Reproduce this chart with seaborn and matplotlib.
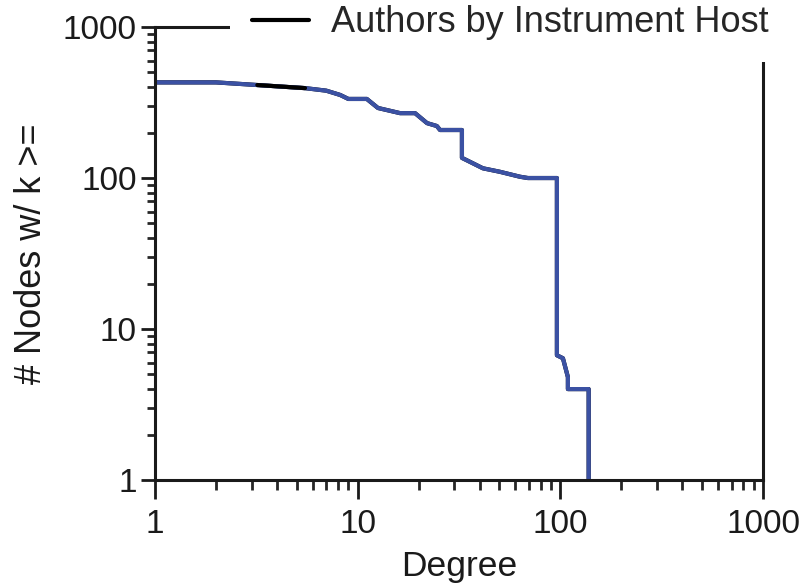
import matplotlib
matplotlib.use("Agg")
import matplotlib.pyplot as plt
import matplotlib.ticker as mticker
import seaborn as sns
import pandas as pd

# -------------------------------------------------
# Data
# -------------------------------------------------
degree = [1, 2.0, 3.2, 5.5, 7.0, 8.2, 9.0, 11.1, 12.6, 16.2, 19.2, 22.0,
          24.6, 25.5, 32.7, 32.7, 34.6, 41.5, 50.3, 63.2, 69.2, 96.2,
          96.2, 103, 109, 109, 138, 138]
nodes = [430, 430, 413, 394, 379, 355, 334, 334, 291, 269, 269, 231,
         221, 208, 208, 136, 131, 116, 110, 102, 100, 100,
         6.7, 6.4, 4.8, 4.0, 4.0, 1.0]
series_label = "Authors by Instrument Host"

df = pd.DataFrame({"degree": degree, "nodes": nodes})

# -------------------------------------------------
# Plot Settings
# -------------------------------------------------
sns.set_theme(style="ticks")
plt.rcParams["font.family"] = ["Liberation Sans", "DejaVu Sans"]

blue = "#3b51a3"
ink = "#1a1a1a"

fig = plt.figure(figsize=(8.07, 5.88), dpi=100)
ax = fig.add_axes([0.192, 0.1837, 0.7535, 0.7703])

sns.lineplot(data=df, x="degree", y="nodes", sort=False, estimator=None,
             color="black", linewidth=3, label=series_label, ax=ax)
sns.lineplot(data=df, x="degree", y="nodes", sort=False, estimator=None,
             color=blue, linewidth=3, legend=False, ax=ax)
# darker stretch near the top of the curve
sns.lineplot(data=df.iloc[2:4], x="degree", y="nodes", sort=False,
             estimator=None, color="black", linewidth=3, legend=False, ax=ax)

ax.set_xscale("log")
ax.set_yscale("log")
ax.set_xlim(1, 1000)
ax.set_ylim(1, 1000)

fmt = mticker.FuncFormatter(lambda v, p: f"{v:g}")
ax.xaxis.set_major_formatter(fmt)
ax.yaxis.set_major_formatter(fmt)
ax.xaxis.set_minor_formatter(mticker.NullFormatter())
ax.yaxis.set_minor_formatter(mticker.NullFormatter())

for s in ax.spines.values():
    s.set_linewidth(2.2)
    s.set_color(ink)

ax.tick_params(axis="x", which="major", length=14, width=2, direction="out",
               labelsize=24, pad=7, colors=ink)
ax.tick_params(axis="x", which="minor", length=7, width=2, direction="out")
ax.tick_params(axis="y", which="major", length=10, width=2, direction="out",
               labelsize=24, pad=3, colors=ink)
ax.tick_params(axis="y", which="minor", length=6, width=2, direction="out")

ax.set_xlabel("Degree", fontsize=25.5, color=ink, labelpad=7)
ax.set_ylabel("# Nodes w/ k >=", fontsize=26, color=ink, labelpad=10)

leg = ax.legend(loc="center left", bbox_to_anchor=(230 / 807, 1 - 23 / 588),
                bbox_transform=fig.transFigure, fontsize=26, frameon=True,
                facecolor="white", edgecolor="none", framealpha=1,
                fancybox=False, borderpad=0.6, borderaxespad=0,
                handlelength=1.6, handletextpad=0.6)
leg.get_lines()[0].set_linewidth(3)
leg.set_zorder(10)

plt.savefig("out.png", dpi=100)
